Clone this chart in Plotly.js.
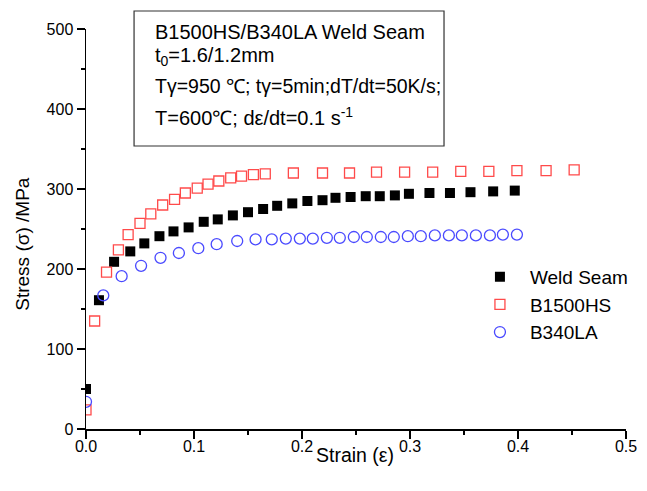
<!DOCTYPE html>
<html>
<head>
<meta charset="utf-8">
<script src="https://cdn.plot.ly/plotly-3.0.1.min.js"></script>
<style>html,body{margin:0;padding:0;background:#fff}#chart{width:647px;height:491px}</style>
</head>
<body>
<div id="chart"></div>
<script>
// Weld Seam (filled black squares)
const weldStrain = [0, 0.012, 0.026, 0.041, 0.054, 0.068, 0.081, 0.095, 0.109, 0.122, 0.136, 0.150, 0.164, 0.177, 0.191, 0.205, 0.219, 0.231, 0.245, 0.259, 0.272, 0.286, 0.299, 0.318, 0.337, 0.356, 0.377, 0.397];
const weldStress = [50, 161, 209, 222, 232, 241, 247, 252, 259, 262, 267, 271, 275, 279, 282, 285, 286, 289, 290, 291, 291, 292, 294, 295, 295, 296, 297, 298];
// B1500HS (open red squares)
const hsStrain = [0, 0.008, 0.019, 0.030, 0.039, 0.050, 0.060, 0.071, 0.082, 0.092, 0.103, 0.113, 0.123, 0.134, 0.144, 0.155, 0.166, 0.192, 0.219, 0.244, 0.269, 0.295, 0.321, 0.347, 0.373, 0.399, 0.426, 0.452];
const hsStress = [24, 135, 196, 224, 243, 257, 269, 280, 287, 295, 301, 306, 310, 314, 316, 318, 319, 320, 320, 320, 321, 321, 321, 322, 322, 323, 323, 324];
// B340LA (open blue circles)
const laStrain = [0, 0.016, 0.033, 0.051, 0.069, 0.086, 0.104, 0.121, 0.140, 0.157, 0.172, 0.185, 0.198, 0.210, 0.223, 0.235, 0.248, 0.260, 0.273, 0.285, 0.298, 0.310, 0.323, 0.336, 0.348, 0.361, 0.374, 0.386, 0.399];
const laStress = [34, 167, 191, 204, 214, 220, 226, 231, 235, 237, 237, 238, 238, 238, 239, 239, 240, 240, 240, 240, 241, 241, 242, 242, 242, 242, 242, 243, 243];

const seriesNames = ["Weld Seam", "B1500HS", "B340LA"];
const infoLines = [
  "B1500HS/B340LA Weld Seam",
  "t<sub>0</sub>=1.6/1.2mm",
  "Tγ=950 ℃; tγ=5min;dT/dt=50K/s;",
  "T=600℃; dε/dt=0.1 s<sup>-1</sup>"
];
const xTitle = "Strain (ε)";
const yTitle = "Stress (σ) /MPa";

const FONT = "Liberation Sans, Arial, sans-serif";

const traces = [
  {x: weldStrain, y: weldStress, name: seriesNames[0], type: "scatter", mode: "markers",
   marker: {symbol: "square", size: 10, color: "#000000", line: {width: 0}}},
  {x: hsStrain, y: hsStress, name: seriesNames[1], type: "scatter", mode: "markers",
   marker: {symbol: "square-open", size: 10, color: "#ff4a4a", line: {width: 1.3}}},
  {x: laStrain, y: laStress, name: seriesNames[2], type: "scatter", mode: "markers",
   marker: {symbol: "circle-open", size: 11, color: "#4a4aff", line: {width: 1.3}}}
];

const lineYs = [0.993, 0.93, 0.857, 0.78];
const lineSizes = [20, 20, 19.5, 20];
const annotations = infoLines.map((t, i) => ({
  xref: "paper", yref: "paper", x: 0.124, y: lineYs[i], xanchor: "left", yanchor: "middle",
  text: t, showarrow: false, font: {family: FONT, size: lineSizes[i], color: "#000"}
}));
annotations.push({
  xref: "paper", yref: "paper", x: 0.498, y: -0.066, xanchor: "center", yanchor: "middle",
  text: xTitle, showarrow: false, font: {family: FONT, size: 19.5, color: "#000"}
});
annotations.push({
  xref: "paper", yref: "paper", x: -0.119, y: 0.4625, xanchor: "center", yanchor: "middle",
  textangle: -90,
  text: yTitle, showarrow: false, font: {family: FONT, size: 19, color: "#000"}
});

const layout = {
  width: 647, height: 491,
  margin: {l: 86, r: 21, t: 29, b: 62},
  paper_bgcolor: "#fff", plot_bgcolor: "#fff",
  font: {family: FONT, color: "#000"},
  showlegend: true,
  legend: {x: 0.711, y: 0.428, xanchor: "left", yanchor: "top", bgcolor: "rgba(0,0,0,0)",
           itemwidth: 50,
           font: {family: FONT, size: 19, color: "#000"}, tracegroupgap: 0},
  xaxis: {range: [0, 0.5], dtick: 0.1, tick0: 0, tickformat: ".1f",
          showgrid: false, zeroline: false, showline: true, linecolor: "#000", linewidth: 1.5,
          ticks: "outside", ticklen: 8, tickwidth: 1.5, tickcolor: "#000",
          ticklabelstandoff: -6,
          minor: {dtick: 0.05, ticks: "outside", ticklen: 4, tickwidth: 1.5, tickcolor: "#000", showgrid: false},
          tickfont: {family: FONT, size: 16, color: "#000"}},
  yaxis: {range: [0, 500], dtick: 100, tick0: 0,
          showgrid: false, zeroline: false, showline: true, linecolor: "#000", linewidth: 1.5,
          ticks: "outside", ticklen: 8, tickwidth: 1.5, tickcolor: "#000",
          minor: {dtick: 50, ticks: "outside", ticklen: 4, tickwidth: 1.5, tickcolor: "#000", showgrid: false},
          tickfont: {family: FONT, size: 16, color: "#000"}},
  shapes: [{type: "rect", xref: "paper", yref: "paper", x0: 0.089, x1: 0.663, y0: 0.7075, y1: 1.045,
            line: {color: "#333", width: 1.2}, fillcolor: "rgba(0,0,0,0)"}],
  annotations: annotations
};

Plotly.newPlot("chart", traces, layout, {displayModeBar: false, staticPlot: true});
</script>
</body>
</html>
